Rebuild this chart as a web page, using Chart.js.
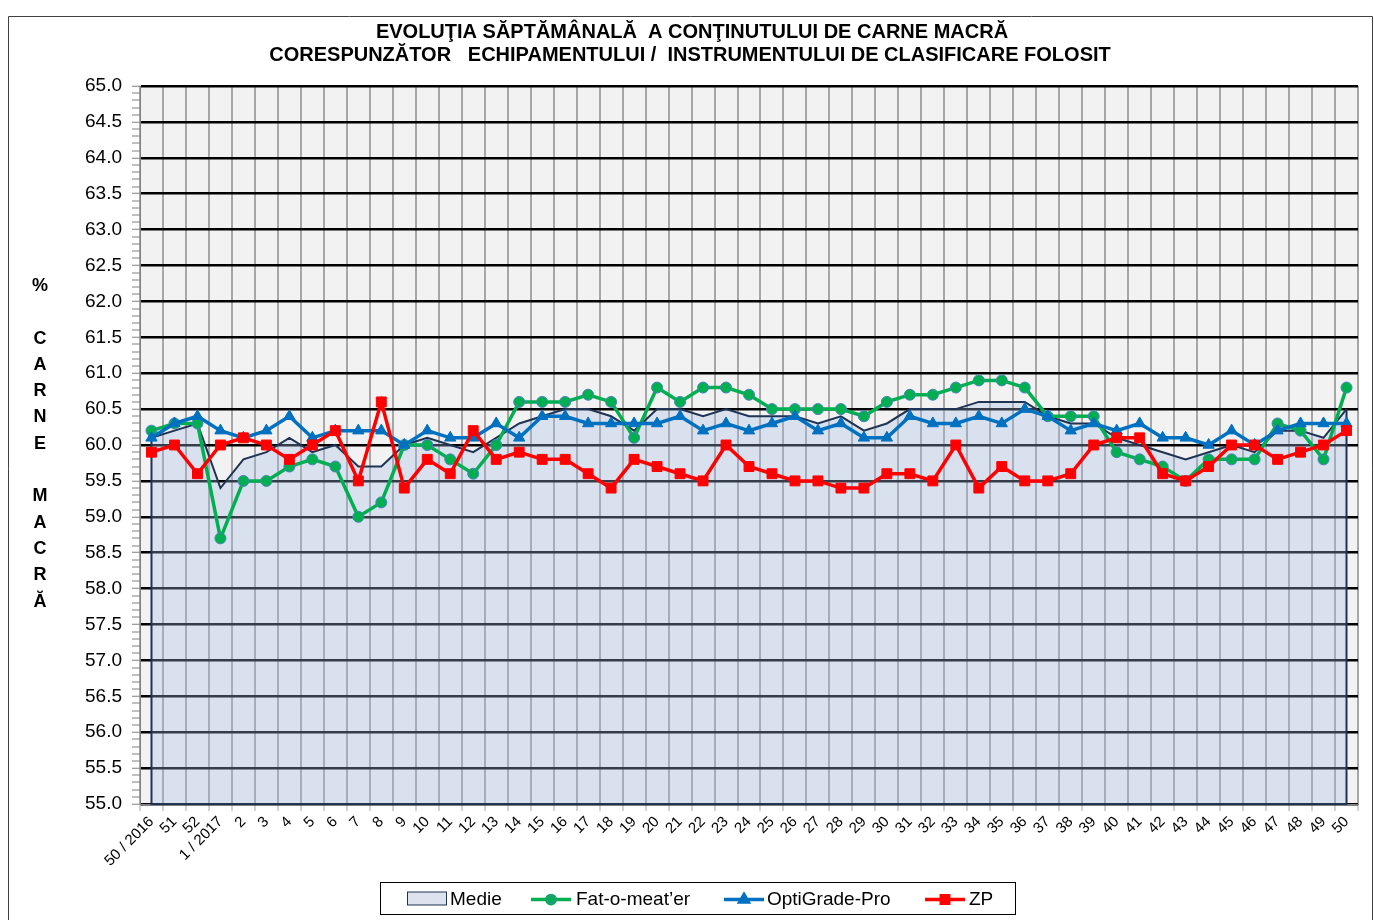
<!DOCTYPE html>
<html>
<head>
<meta charset="utf-8">
<script src="https://cdn.jsdelivr.net/npm/chart.js@4.4.1/dist/chart.umd.min.js"></script>
<style>
	body { margin: 0; background: #fff; }
	#wrap { width: 1374px; height: 920px; }
</style>
</head>
<body>
<div id="wrap"><canvas id="chart" width="1374" height="920"></canvas></div>
<script>
// weekly labels
const weeks = ['50 / 2016', '51', '52', '1 / 2017', '2', '3', '4', '5', '6', '7', '8', '9', '10',
	'11', '12', '13', '14', '15', '16', '17', '18', '19', '20', '21', '22', '23', '24', '25',
	'26', '27', '28', '29', '30', '31', '32', '33', '34', '35', '36', '37', '38', '39', '40',
	'41', '42', '43', '44', '45', '46', '47', '48', '49', '50'];

// series values (% carne macra)
const medie = [60.1, 60.2, 60.3, 59.4, 59.8, 59.9, 60.1, 59.9, 60.0, 59.7, 59.7, 60.0, 60.1,
	60.0, 59.9, 60.1, 60.3, 60.4, 60.5, 60.5, 60.4, 60.2, 60.5, 60.5, 60.4, 60.5, 60.4, 60.4,
	60.4, 60.3, 60.4, 60.2, 60.3, 60.5, 60.5, 60.5, 60.6, 60.6, 60.6, 60.4, 60.3, 60.3, 60.1,
	60.0, 59.9, 59.8, 59.9, 60.0, 59.9, 60.2, 60.2, 60.1, 60.5];

const fatOMeater = [60.2, 60.3, 60.3, 58.7, 59.5, 59.5, 59.7, 59.8, 59.7, 59.0, 59.2, 60.0, 60.0,
	59.8, 59.6, 60.0, 60.6, 60.6, 60.6, 60.7, 60.6, 60.1, 60.8, 60.6, 60.8, 60.8, 60.7, 60.5,
	60.5, 60.5, 60.5, 60.4, 60.6, 60.7, 60.7, 60.8, 60.9, 60.9, 60.8, 60.4, 60.4, 60.4, 59.9,
	59.8, 59.7, 59.5, 59.8, 59.8, 59.8, 60.3, 60.2, 59.8, 60.8];

const optiGrade = [60.1, 60.3, 60.4, 60.2, 60.1, 60.2, 60.4, 60.1, 60.2, 60.2, 60.2, 60.0, 60.2,
	60.1, 60.1, 60.3, 60.1, 60.4, 60.4, 60.3, 60.3, 60.3, 60.3, 60.4, 60.2, 60.3, 60.2, 60.3,
	60.4, 60.2, 60.3, 60.1, 60.1, 60.4, 60.3, 60.3, 60.4, 60.3, 60.5, 60.4, 60.2, 60.3, 60.2,
	60.3, 60.1, 60.1, 60.0, 60.2, 60.0, 60.2, 60.3, 60.3, 60.3];

const zp = [59.9, 60.0, 59.6, 60.0, 60.1, 60.0, 59.8, 60.0, 60.2, 59.5, 60.6, 59.4, 59.8,
	59.6, 60.2, 59.8, 59.9, 59.8, 59.8, 59.6, 59.4, 59.8, 59.7, 59.6, 59.5, 60.0, 59.7, 59.6,
	59.5, 59.5, 59.4, 59.4, 59.6, 59.6, 59.5, 60.0, 59.4, 59.7, 59.5, 59.5, 59.6, 60.0, 60.1,
	60.1, 59.6, 59.5, 59.7, 60.0, 60.0, 59.8, 59.9, 60.0, 60.2];

const Y_MIN = 55, Y_MAX = 65;

const titleLines = ['EVOLUŢIA SĂPTĂMÂNALĂ  A CONŢINUTULUI DE CARNE MACRĂ',
	'CORESPUNZĂTOR   ECHIPAMENTULUI /  INSTRUMENTULUI DE CLASIFICARE FOLOSIT'];
const yLabel = ['%', '', 'C', 'A', 'R', 'N', 'E', '', 'M', 'A', 'C', 'R', 'Ă'];

const FONT = '"Liberation Sans", Arial, sans-serif';

function isMajor(v) {
	return Math.abs(v * 2 - Math.round(v * 2)) < 1e-6;
}

/**
 * Background, frame, title, y label and legend
 */
const decorPlugin = {
	id: 'decor',
	beforeDraw(chart) {
		const { ctx, chartArea: a } = chart;
		ctx.save();
		ctx.fillStyle = '#fff';
		ctx.fillRect(0, 0, chart.width, chart.height);
		ctx.strokeStyle = '#404040';
		ctx.lineWidth = 1;
		ctx.beginPath();
		ctx.moveTo(8.5, 925);
		ctx.lineTo(8.5, 16.5);
		ctx.lineTo(1372.5, 16.5);
		ctx.lineTo(1372.5, 925);
		ctx.stroke();
		ctx.fillStyle = '#F2F2F2';
		ctx.fillRect(a.left, a.top, a.right - a.left, a.bottom - a.top);
		ctx.restore();
	},
	afterDatasetDraw(chart, args) {
		// vertical edges of the Medie area
		if (args.index !== 0) return;
		const { ctx } = chart;
		const x = chart.scales.x, y = chart.scales.y;
		const first = 0, last = medie.length - 1;
		ctx.save();
		ctx.strokeStyle = '#1F3354';
		ctx.lineWidth = 2;
		ctx.beginPath();
		ctx.moveTo(x.getPixelForValue(first), y.getPixelForValue(medie[first]));
		ctx.lineTo(x.getPixelForValue(first), y.getPixelForValue(Y_MIN));
		ctx.lineTo(x.getPixelForValue(last), y.getPixelForValue(Y_MIN));
		ctx.lineTo(x.getPixelForValue(last), y.getPixelForValue(medie[last]));
		ctx.stroke();
		ctx.restore();
	},
	afterDraw(chart) {
		const { ctx } = chart;
		ctx.save();
		ctx.fillStyle = '#000';
		ctx.textAlign = 'center';
		ctx.textBaseline = 'middle';

		// title
		ctx.font = 'bold 20px ' + FONT;
		ctx.fillText(titleLines[0], 692, 32);
		ctx.fillText(titleLines[1], 690, 55);

		// vertical y label
		ctx.font = 'bold 18px ' + FONT;
		yLabel.forEach((ch, i) => {
			if (ch) ctx.fillText(ch, 40, 286 + i * 26.3);
		});

		// legend
		const lx = 380.5, ly = 882.5, lw = 635, lh = 32;
		ctx.fillStyle = '#fff';
		ctx.fillRect(lx, ly, lw, lh);
		ctx.strokeStyle = '#000';
		ctx.lineWidth = 1;
		ctx.strokeRect(lx, ly, lw, lh);

		const cy = ly + lh / 2 + 1;
		ctx.font = '19px ' + FONT;
		ctx.textAlign = 'left';

		// Medie swatch
		const ds = chart.data.datasets;
		ctx.fillStyle = '#DCE3EF';
		ctx.fillRect(407.5, cy - 7.5, 39, 13);
		ctx.strokeStyle = ds[0].borderColor;
		ctx.strokeRect(407.5, cy - 7.5, 39, 13);
		ctx.fillStyle = '#000';
		ctx.fillText(ds[0].label, 450, cy);

		const items = [
			{ i: 1, x0: 531, tx: 576 },
			{ i: 2, x0: 724, tx: 767 },
			{ i: 3, x0: 925, tx: 969 }
		];
		items.forEach(it => {
			const d = ds[it.i];
			ctx.strokeStyle = d.borderColor;
			ctx.lineWidth = 3.5;
			ctx.beginPath();
			ctx.moveTo(it.x0, cy);
			ctx.lineTo(it.x0 + 40, cy);
			ctx.stroke();
			Chart.helpers.drawPoint(ctx, {
				pointStyle: d.pointStyle,
				radius: d.pointRadius * 0.75,
				borderWidth: d.pointBorderWidth
			}, it.x0 + 20, cy);
			ctx.fillStyle = d.pointBackgroundColor;
			ctx.strokeStyle = d.pointBorderColor;
			ctx.lineWidth = d.pointBorderWidth;
			ctx.fill();
			ctx.stroke();
			ctx.fillStyle = '#000';
			ctx.fillText(d.label, it.tx, cy);
		});
		ctx.restore();
	}
};

function initChart() {
	const ctx = document.getElementById('chart').getContext('2d');

	const chartConfig = {
		type: 'line',
		data: {
			labels: weeks,
			datasets: [{
				label: 'Medie',
				data: medie,
				borderColor: '#1F3354',
				backgroundColor: 'rgba(165,189,232,0.32)',
				borderWidth: 2,
				fill: 'start',
				pointRadius: 0,
				order: 4
			}, {
				label: 'Fat-o-meat’er',
				data: fatOMeater,
				borderColor: '#00B050',
				borderWidth: 3.5,
				pointStyle: 'circle',
				pointRadius: 5.5,
				pointBackgroundColor: '#00B050',
				pointBorderColor: '#4F81BD',
				pointBorderWidth: 1,
				order: 3
			}, {
				label: 'OptiGrade-Pro',
				data: optiGrade,
				borderColor: '#0070C0',
				borderWidth: 3.5,
				pointStyle: 'triangle',
				pointRadius: 6.5,
				pointBackgroundColor: '#0070C0',
				pointBorderColor: '#0070C0',
				pointBorderWidth: 1,
				order: 2
			}, {
				label: 'ZP',
				data: zp,
				borderColor: '#FF0000',
				borderWidth: 3.5,
				pointStyle: 'rect',
				pointRadius: 7,
				pointBackgroundColor: '#FF0000',
				pointBorderColor: '#FF0000',
				pointBorderWidth: 1,
				order: 1
			}]
		},
		options: {
			responsive: false,
			animation: false,
			layout: { padding: { left: 0, top: 86, right: 16, bottom: 0 } },
			elements: { line: { tension: 0 } },
			scales: {
				x: {
					type: 'category',
					offset: true,
					grid: {
						offset: true,
						color: '#A6A6A6',
						lineWidth: 2,
						tickLength: 7,
						tickColor: '#A6A6A6',
						tickWidth: 1
					},
					border: { color: '#808080', width: 1 },
					ticks: {
						autoSkip: false,
						minRotation: 45,
						maxRotation: 45,
						padding: 2,
						color: '#000',
						font: { family: FONT, size: 15 }
					},
					afterFit(scale) { scale.height = 116; }
				},
				y: {
					min: Y_MIN,
					max: Y_MAX,
					grid: {
						color: c => isMajor(c.tick.value) ? '#000' : 'rgba(0,0,0,0)',
						lineWidth: c => isMajor(c.tick.value) ? 2.5 : 0,
						tickLength: 8,
						tickColor: '#808080',
						tickWidth: 1
					},
					border: { color: '#808080', width: 1 },
					ticks: {
						stepSize: 0.1,
						maxTicksLimit: 200,
						autoSkip: false,
						padding: 10,
						color: '#000',
						font: { family: FONT, size: 19 },
						callback: v => isMajor(v) ? v.toFixed(1) : ''
					},
					afterFit(scale) { scale.width = 140; }
				}
			},
			plugins: {
				legend: { display: false },
				title: { display: false },
				tooltip: { enabled: false }
			}
		},
		plugins: [decorPlugin]
	};

	return new Chart(ctx, chartConfig);
}

initChart();
</script>
</body>
</html>
